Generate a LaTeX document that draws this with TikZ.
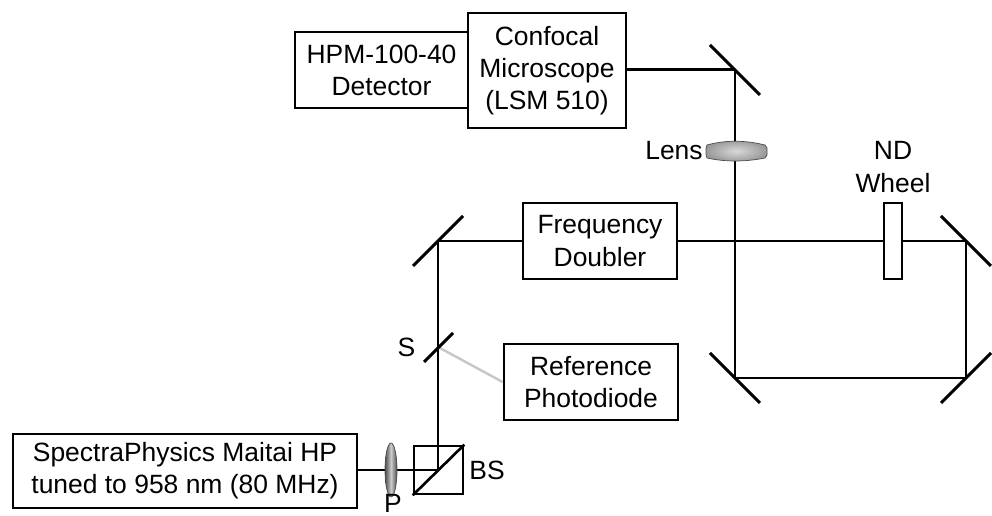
\documentclass[tikz,border=0pt]{standalone}
\usepackage{fontspec}
\setmainfont{Liberation Sans}
\usetikzlibrary{shapes.geometric}

\begin{document}
\begin{tikzpicture}[
        x=0.02cm, y=-0.02cm,
        instrument/.style={draw=black,line width=1.55pt,align=center,inner sep=0pt,font=\fontsize{15.05}{18.3}\selectfont},
        label/.style={inner sep=0pt,font=\fontsize{15.05}{18.3}\selectfont},
        beam/.style={draw=black,line width=1.7pt},
        mirror/.style={draw=black,line width=1.7pt},
      ]
      \useasboundingbox (0,0) rectangle (992,516);

      \coordinate (topmirror) at (735,70);
      \coordinate (leftmirror) at (438,241);
      \coordinate (rightmirror) at (966,241);
      \coordinate (lowleftmirror) at (735,378);
      \coordinate (lowrightmirror) at (966,378);
      \coordinate (splitter) at (438,347);
      \coordinate (cubecentre) at (438,470);

      \node[instrument,minimum width=3.46cm,minimum height=1.52cm] (detector) at (381.5,70) {HPM-100-40\\Detector};
      \node[instrument,minimum width=3.16cm,minimum height=2.3cm,fill=white] (microscope) at (547,70.5) {Confocal\\Microscope\\(LSM 510)};
      \node[instrument,minimum width=3.08cm,minimum height=1.52cm] (doubler) at (600,241) {Frequency\\Doubler};
      \node[instrument,minimum width=3.48cm,minimum height=1.52cm] (photodiode) at (591,382) {Reference\\Photodiode};
      \node[instrument,minimum width=6.88cm,minimum height=1.48cm] (laser) at (185,471) {SpectraPhysics Maitai HP\\tuned to 958 nm (80 MHz)};

      \draw[beam] (microscope.east |- topmirror) -- (topmirror);
      \draw[beam] (topmirror) -- (lowleftmirror);
      \draw[beam] (lowleftmirror) -- (lowrightmirror);
      \draw[beam] (lowrightmirror) -- (rightmirror);
      \draw[beam] (rightmirror) -- (doubler.east);
      \draw[beam] (doubler.west) -- (leftmirror);
      \draw[beam] (leftmirror) -- (cubecentre);
      \draw[beam,line width=1.2pt] (laser.east |- cubecentre) -- (cubecentre);
      \draw[draw=black!22,line width=1.4pt] (splitter) -- (photodiode.west);

      \draw[mirror] (710,45) -- (760,95);
      \draw[mirror] (413,266) -- (463,216);
      \draw[mirror] (941,216) -- (991,266);
      \draw[mirror] (941,403) -- (991,353);
      \draw[mirror] (710,353) -- (760,403);
      \draw[mirror] (424,362) -- (453,333);

      \node[draw=black,line width=1.5pt,minimum width=0.98cm,minimum height=0.96cm,inner sep=0pt] (cube) at (438.5,470) {};
      \draw[draw=black,line width=1.5pt] (cube.south west) -- (cube.north east);
      \node[draw=black,line width=1.5pt,fill=white,minimum width=0.36cm,minimum height=1.52cm,inner sep=0pt] (wheel) at (893,241) {};

      \node[ellipse,draw=black!70,thin,left color=black!70,right color=black!70,middle color=black!20,minimum width=0.24cm,minimum height=1.08cm,inner sep=0pt] (polarizer) at (391,470) {};
      \draw[draw=black!70,thin,inner color=black!15,outer color=black!40] (707,145) .. controls (725,140) and (745,140) .. (765,145) -- (767,148) -- (767,155) -- (765,158) .. controls (745,162) and (725,162) .. (707,158) -- (706,155) -- (706,148) -- cycle;
      \node[inner sep=0pt] (lens) at (735,151) {};

      \node[label,anchor=east] (lenstext) at (703,151) {Lens};
      \node[label,align=center] (wheeltext) at (893,167) {ND\\Wheel};
      \node[label] (stext) at (406.5,347) {S};
      \node[label] (bstext) at (487,470) {BS};
      \node[label] (ptext) at (393,503) {P};
    \end{tikzpicture}
\end{document}
